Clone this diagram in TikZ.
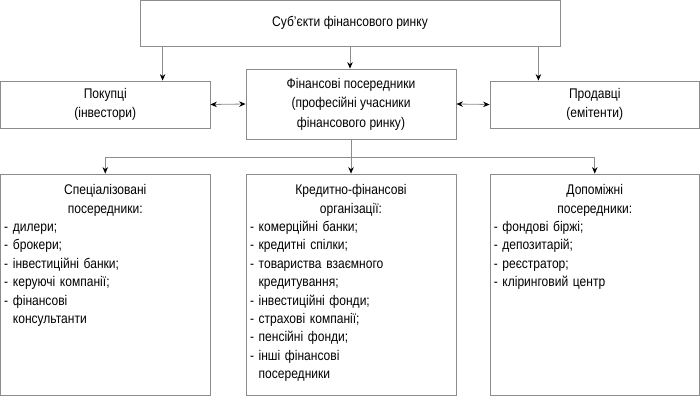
\documentclass[tikz,border=0pt]{standalone}
\usepackage{fontspec}
\setmainfont{Liberation Sans}[FakeStretch=0.86]
\usetikzlibrary{arrows.meta, positioning}

\begin{document}
\begin{tikzpicture}[x=1pt, y=-1pt,
  box/.style={rectangle, draw=black!45, line width=0.8pt, inner sep=0pt, align=center, font=\fontsize{14}{19.6}\selectfont},
  lst/.style={inner sep=0pt, text width=202pt, align=left, font=\fontsize{14}{18.35}\selectfont},
  arr/.style={black!45, line width=0.8pt, -{Stealth[black, length=6.5pt, width=5.5pt]}},
  darr/.style={black!45, line width=0.8pt, {Stealth[black, length=6.5pt, width=5.5pt]}-{Stealth[black, length=6.5pt, width=5.5pt]}}]
  \useasboundingbox (0,0) rectangle (700,396);

  % Top level
  \node[box, minimum width=420pt, minimum height=45.5pt] (S) at (350,23.2) {Суб’єкти фінансового ринку};

  % Market participants
  \node[box, minimum width=209.5pt, minimum height=47pt] (B) at (105.25,104.5) {Покупці\\(інвестори)};
  \node[box, minimum width=210pt, minimum height=70pt] (F) at (351,104) {Фінансові посередники\\(професійні учасники\\фінансового ринку)};
  \node[box, minimum width=209.5pt, minimum height=47pt] (P) at (594.75,104.5) {Продавці\\(емітенти)};

  % Kinds of intermediaries
  \node[box, minimum width=209.5pt, minimum height=221.5pt] (SP) at (105.25,284.75) {};
  \node[box, minimum width=210pt, minimum height=221.5pt] (KF) at (351,284.75) {};
  \node[box, minimum width=209.5pt, minimum height=221.5pt] (DP) at (594.75,284.75) {};

  \node[lst, below=11pt of SP.north] (SPt) {{\centering Спеціалізовані\\посередники:\par}
    - дилери;\\- брокери;\\- інвестиційні банки;\\- керуючі компанії;\\- фінансові\\\phantom{- }консультанти};
  \node[lst, below=11pt of KF.north] (KFt) {{\centering Кредитно-фінансові\\організації:\par}
    - комерційні банки;\\- кредитні спілки;\\- товариства взаємного\\\phantom{- }кредитування;\\- інвестиційні фонди;\\- страхові компанії;\\- пенсійні фонди;\\- інші фінансові\\\phantom{- }посередники};
  \node[lst, below=11pt of DP.north] (DPt) {{\centering Допоміжні\\посередники:\par}
    - фондові біржі;\\- депозитарій;\\- реєстратор;\\- кліринговий центр};

  % Arrows from the top box
  \draw[arr] ([xshift=23pt]S.south west) -- ([xshift=23pt]S.south west |- B.north);
  \draw[arr] ([xshift=-22pt]S.south east) -- ([xshift=-22pt]S.south east |- P.north);
  \draw[arr] (S.south) -- (S.south |- F.north);

  % Two-way links
  \draw[darr] (B.east) -- (F.west);
  \draw[darr] (F.east) -- (P.west);

  % Branching down
  \coordinate (J) at (351,157);
  \draw[black!45, line width=0.8pt] (F.south) -- (J);
  \draw[arr] (J) -- (KF.north);
  \draw[arr] (J) -| (SP.north);
  \draw[arr] (J) -| (DP.north);
\end{tikzpicture}
\end{document}
